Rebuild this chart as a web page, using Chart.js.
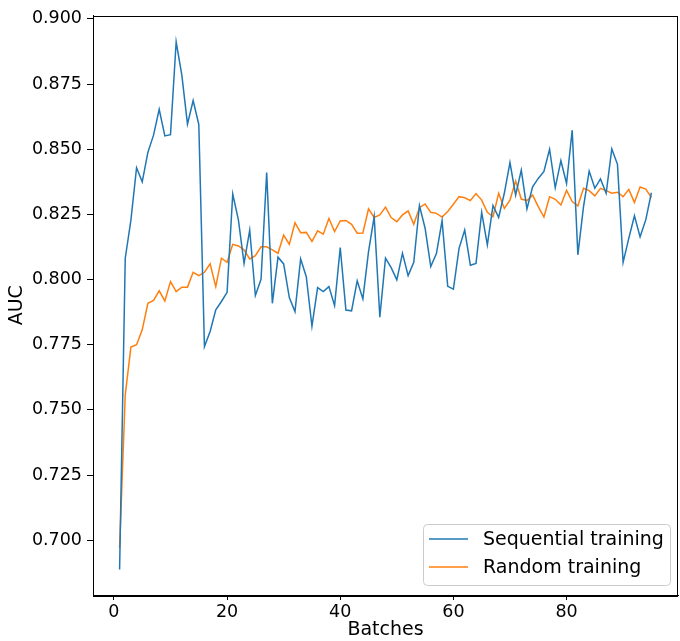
<!DOCTYPE html>
<html>
<head>
<meta charset="utf-8">
<script src="https://cdn.jsdelivr.net/npm/chart.js@4/dist/chart.umd.min.js"></script>
<style>
  body { margin: 0; background: #fff; }
  #wrap { width: 680px; height: 641px; }
</style>
</head>
<body>
<div id="wrap"><canvas id="auc-chart" width="680" height="641"></canvas></div>
<script>
const batches = [
    1, 2, 3, 4, 5, 6, 7, 8, 9, 10, 11, 12, 13, 14, 15, 16, 17, 18, 19, 20,
    21, 22, 23, 24, 25, 26, 27, 28, 29, 30, 31, 32, 33, 34, 35, 36, 37, 38, 39, 40,
    41, 42, 43, 44, 45, 46, 47, 48, 49, 50, 51, 52, 53, 54, 55, 56, 57, 58, 59, 60,
    61, 62, 63, 64, 65, 66, 67, 68, 69, 70, 71, 72, 73, 74, 75, 76, 77, 78, 79, 80,
    81, 82, 83, 84, 85, 86, 87, 88, 89, 90, 91, 92, 93, 94, 95
];

const sequentialAuc = [
    0.6888, 0.8082, 0.8228, 0.8429, 0.8375, 0.8488, 0.8554, 0.8653, 0.8551, 0.8556,
    0.8912, 0.8784, 0.8596, 0.8687, 0.8595, 0.7743, 0.7801, 0.7884, 0.7916, 0.7951,
    0.8328, 0.8229, 0.8062, 0.8190, 0.7939, 0.8001, 0.8411, 0.7909, 0.8086, 0.8060,
    0.7931, 0.7877, 0.8079, 0.8011, 0.7821, 0.7969, 0.7954, 0.7973, 0.7900, 0.8123,
    0.7883, 0.7880, 0.7995, 0.7926, 0.8107, 0.8241, 0.7856, 0.8082, 0.8046, 0.7999,
    0.8101, 0.8015, 0.8066, 0.8284, 0.8197, 0.8050, 0.8100, 0.8226, 0.7974, 0.7963,
    0.8120, 0.8190, 0.8055, 0.8062, 0.8258, 0.8133, 0.8284, 0.8238, 0.8331, 0.8449,
    0.8324, 0.8420, 0.8271, 0.8356, 0.8388, 0.8415, 0.8500, 0.8352, 0.8456, 0.8369,
    0.8573, 0.8095, 0.8280, 0.8416, 0.8350, 0.8386, 0.8331, 0.8501, 0.8442, 0.8066,
    0.8158, 0.8245, 0.8164, 0.8229, 0.8333
];

const randomAuc = [
    0.6970, 0.7558, 0.7741, 0.7750, 0.7807, 0.7909, 0.7920, 0.7957, 0.7918, 0.7992,
    0.7954, 0.7971, 0.7971, 0.8028, 0.8015, 0.8028, 0.8060, 0.7973, 0.8082, 0.8066,
    0.8135, 0.8129, 0.8114, 0.8079, 0.8092, 0.8126, 0.8126, 0.8114, 0.8101, 0.8171,
    0.8135, 0.8218, 0.8180, 0.8181, 0.8146, 0.8187, 0.8174, 0.8234, 0.8184, 0.8225,
    0.8227, 0.8212, 0.8178, 0.8179, 0.8271, 0.8238, 0.8248, 0.8278, 0.8238, 0.8222,
    0.8248, 0.8263, 0.8212, 0.8276, 0.8290, 0.8258, 0.8254, 0.8240, 0.8261, 0.8289,
    0.8318, 0.8314, 0.8303, 0.8330, 0.8305, 0.8258, 0.8241, 0.8331, 0.8273, 0.8305,
    0.8378, 0.8309, 0.8303, 0.8324, 0.8280, 0.8240, 0.8318, 0.8308, 0.8286, 0.8342,
    0.8299, 0.8282, 0.8350, 0.8341, 0.8321, 0.8350, 0.8341, 0.8331, 0.8335, 0.8318,
    0.8346, 0.8296, 0.8355, 0.8347, 0.8315
];

const seriesLabels = ['Sequential training', 'Random training'];
const seriesColors = ['#1f77b4', '#ff7f0e'];

const FONT = 'DejaVu Sans';
const toPoints = (ys) => batches.map((b, i) => ({ x: b, y: ys[i] }));

// matplotlib-style frame around the plot area
const framePlugin = {
    id: 'frame',
    afterDraw(chart) {
        const { ctx, chartArea: a } = chart;
        ctx.save();
        ctx.strokeStyle = '#000';
        ctx.lineWidth = 1;
        ctx.strokeRect(Math.round(a.left) + 0.5, Math.round(a.top) + 0.5,
            Math.round(a.right - a.left) - 1, Math.round(a.bottom - a.top));
        ctx.restore();
    }
};

// legend box in the lower right corner of the axes
const legendPlugin = {
    id: 'boxLegend',
    afterDraw(chart) {
        const { ctx, chartArea: a } = chart;
        const w = 247, h = 61;
        const x = a.right - 8 - w, y = a.bottom - 10 - h;
        ctx.save();
        ctx.beginPath();
        ctx.roundRect(x + 0.5, y + 0.5, w, h, 4);
        ctx.fillStyle = 'rgba(255,255,255,0.8)';
        ctx.fill();
        ctx.strokeStyle = '#cccccc';
        ctx.lineWidth = 1;
        ctx.stroke();
        ctx.font = `19px "${FONT}"`;
        ctx.textBaseline = 'middle';
        chart.data.datasets.forEach((ds, i) => {
            const ly = y + 15 + i * 28;
            ctx.strokeStyle = ds.borderColor;
            ctx.lineWidth = 1.5;
            ctx.beginPath();
            ctx.moveTo(x + 6, ly);
            ctx.lineTo(x + 45, ly);
            ctx.stroke();
            ctx.fillStyle = '#000';
            ctx.fillText(ds.label, x + 60, ly + 1);
        });
        ctx.restore();
    }
};

new Chart(document.getElementById('auc-chart'), {
    type: 'line',
    data: {
        datasets: [sequentialAuc, randomAuc].map((ys, i) => ({
            label: seriesLabels[i],
            data: toPoints(ys),
            borderColor: seriesColors[i],
            backgroundColor: seriesColors[i],
            borderWidth: 1.5,
            pointRadius: 0,
            tension: 0,
            fill: false
        }))
    },
    options: {
        responsive: false,
        animation: false,
        layout: { padding: { top: 12, right: 2, left: 0, bottom: 0 } },
        plugins: {
            legend: { display: false },
            tooltip: { enabled: false }
        },
        scales: {
            x: {
                type: 'linear',
                min: -3.7,
                max: 99.7,
                afterFit: (s) => { s.height = 46; },
                ticks: {
                    stepSize: 20,
                    includeBounds: false,
                    color: '#000',
                    font: { family: FONT, size: 17.5 },
                    padding: 2,
                    maxRotation: 0
                },
                grid: { drawOnChartArea: false, tickLength: 5, color: '#000' },
                border: { color: '#000', width: 1 },
                title: {
                    display: true,
                    text: 'Batches',
                    color: '#000',
                    font: { family: FONT, size: 19, lineHeight: 1.1 },
                    padding: { top: 0, bottom: 0 }
                }
            },
            y: {
                type: 'linear',
                min: 0.679,
                max: 0.9013,
                afterFit: (s) => { s.width = 93; },
                ticks: {
                    stepSize: 0.025,
                    includeBounds: false,
                    color: '#000',
                    font: { family: FONT, size: 17.5 },
                    padding: 5,
                    callback: (v) => v.toFixed(3)
                },
                grid: { drawOnChartArea: false, tickLength: 6, color: '#000' },
                border: { color: '#000', width: 1 },
                title: {
                    display: true,
                    text: 'AUC',
                    color: '#000',
                    font: { family: FONT, size: 19, lineHeight: 1.1 },
                    padding: { top: 7, bottom: 0 }
                }
            }
        }
    },
    plugins: [framePlugin, legendPlugin]
});
</script>
</body>
</html>
